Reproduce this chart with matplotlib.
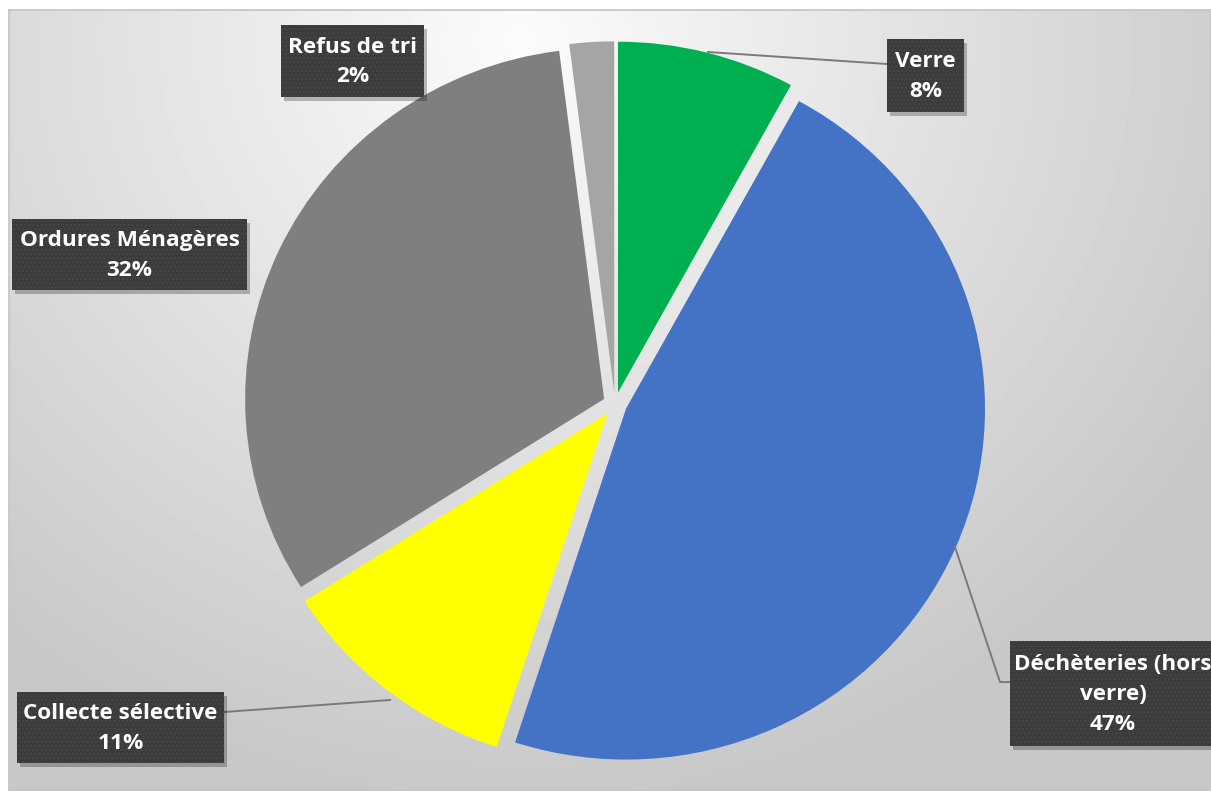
import numpy as np
import matplotlib
matplotlib.use("Agg")
import matplotlib.pyplot as plt
import matplotlib.patches as mpatches

# data
categories = ["Verre", "Déchèteries (hors\nverre)", "Collecte sélective",
              "Ordures Ménagères", "Refus de tri"]
values = [8, 47, 11, 32, 2]
colors = ["#00B050", "#4472C4", "#FFFF00", "#7F7F7F", "#A5A5A5"]

W, H = 1211, 791
fig = plt.figure(figsize=(W / 100, H / 100), dpi=100)
fig.patch.set_facecolor("white")

# background gradient of the chart area
bg = fig.add_axes([9 / W, 0, (W - 9) / W, (H - 10) / H])
yy, xx = np.mgrid[10:H, 9:W]
d = np.sqrt(((xx - 520) / 760.0) ** 2 + ((yy - 40) / 720.0) ** 2)
shade = np.clip(0.985 - 0.19 * d, 0.785, 1.0)
bg.imshow(shade, cmap="gray", vmin=0, vmax=1, aspect="auto",
          extent=(9, W, H, 10))
bg.set_xticks([])
bg.set_yticks([])
for s in bg.spines.values():
    s.set_color("#c4c4c4")
    s.set_linewidth(1.2)

# pie axes, slightly stretched horizontally like the original picture
k = 1.023
axp = fig.add_axes([0, 0, 1, 1])
axp.patch.set_alpha(0)
cx, cy, R = 615, (H - 404) * k, 359
axp.pie(values, colors=colors, startangle=90, counterclock=False,
        radius=R, center=(cx, cy), explode=[12] * len(values),
        wedgeprops=dict(linewidth=0))
axp.set_xlim(0, W)
axp.set_ylim(0, H * k)
axp.set_aspect("auto")
axp.axis("off")

# overlay axes in pixel units for labels
ax = fig.add_axes([0, 0, 1, 1])
ax.patch.set_alpha(0)
ax.set_xlim(0, W)
ax.set_ylim(H, 0)
ax.axis("off")

# leader lines
leaders = [
    [(708, 52), (887, 64)],
    [(955, 547), (1000, 682), (1010, 682)],
    [(390, 700), (224, 712)],
]
for pts in leaders:
    ax.plot([p[0] for p in pts], [p[1] for p in pts], color="#7a7a7a",
            lw=1.4, zorder=3)

# label boxes (pixel boxes: left, top, right, bottom)
boxes = [(887, 39, 964, 112), (1010, 641, 1216, 746), (17, 692, 224, 763),
         (12, 219, 247, 290), (281, 25, 424, 97)]
for cat, v, (l, t, r, b) in zip(categories, values, boxes):
    sh = mpatches.Rectangle((l + 3, t + 4), r - l, b - t, facecolor="#000000",
                            alpha=0.25, lw=0, zorder=4)
    ax.add_patch(sh)
    box = mpatches.Rectangle((l, t), r - l, b - t, facecolor="#3b3b3b",
                             edgecolor="#474747", lw=0, hatch="....", zorder=5)
    ax.add_patch(box)
    ax.text((l + r) / 2, (t + b) / 2 + 1, f"{cat}\n{v}%", color="white",
            fontsize=16.2, fontweight="bold", family="Open Sans",
            ha="center", va="center", linespacing=1.55, zorder=6)

fig.savefig("out.png", dpi=100)
